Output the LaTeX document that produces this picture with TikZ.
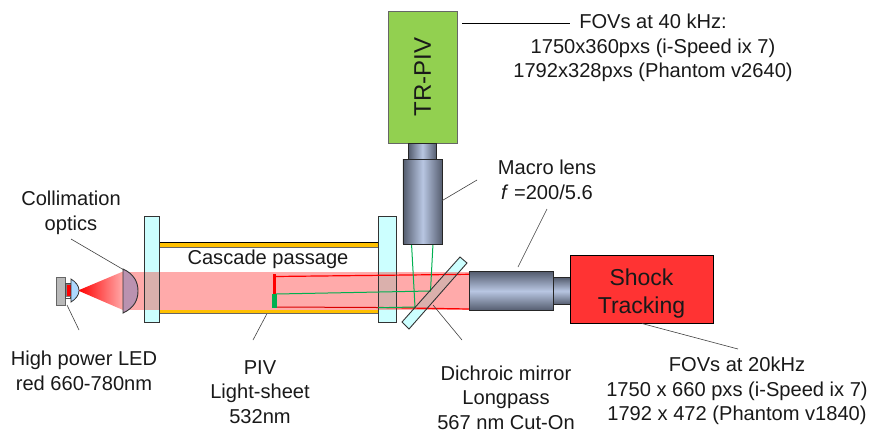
\documentclass[tikz,border=0pt]{standalone}
\usepackage{fontspec}
\setmainfont{Liberation Sans}
\usetikzlibrary{shadings}
\definecolor{beam}{RGB}{255,170,170}
\definecolor{glass}{RGB}{204,255,255}
\definecolor{overl}{RGB}{218,176,172}
\definecolor{lensc}{RGB}{186,146,176}
\definecolor{barc}{RGB}{255,192,0}
\definecolor{tube}{RGB}{184,198,226}
\definecolor{tubed}{RGB}{84,92,110}
\definecolor{pivg}{RGB}{0,176,80}
\definecolor{camg}{RGB}{146,208,80}
\definecolor{shock}{RGB}{255,51,51}
\tikzset{
 x=1pt,y=-1pt,
 lbl/.style={font=\fontsize{20.1}{24.5}\selectfont,align=center,text=black!90,inner sep=0pt},
 leader/.style={draw=black!75,line width=.6pt},
 glassbox/.style={draw=black!80,fill=glass,line width=.9pt},
 vtube/.style={draw=black!85,line width=.9pt,left color=tubed,right color=tubed,middle color=tube},
 htube/.style={draw=black!85,line width=.9pt,top color=tubed,bottom color=tubed,middle color=tube},
}
\begin{document}
\begin{tikzpicture}
\useasboundingbox (0,0) rectangle (869,432);
% leader under the bar
\coordinate (c3) at (271,306); \coordinate (c4) at (253,340);
\draw[leader] (c3)--(c4);
% bars
\fill[barc] (159,242) rectangle (378,247);
\draw[black,line width=.8pt] (159,242)--(378,242);
\draw[black!60,line width=1pt] (159,247.5)--(378,247.5);
\fill[barc] (159,308) rectangle (378,313);
\draw[black,line width=.8pt] (159,308)--(378,308);
\draw[black!60,line width=1pt] (159,313)--(378,313);
% beam
\fill[beam] (123,271.5) rectangle (469,310);
\shade[left color=red,right color=beam,shading angle=90] (78,290.5) -- (123,271.5) -- (123,310) -- cycle;
% windows
\node[glassbox,minimum width=15pt,minimum height=106pt,inner sep=0pt,anchor=north west] (winL) at (144,216) {};
\node[glassbox,minimum width=18pt,minimum height=106pt,inner sep=0pt,anchor=north west] (winR) at (378,216) {};
\fill[overl] (144.5,271.5) rectangle (158.5,310);
\fill[overl] (378.5,271.5) rectangle (395.5,310);
\draw[black!80,line width=.9pt] (144,271)--(144,310) (159,271)--(159,310) (378,271)--(378,310) (396,271)--(396,310);
% mirror
\fill[glass] (460,257)--(467,263)--(409,329)--(402,322)--cycle;
\begin{scope}
\clip (460,257)--(467,263)--(409,329)--(402,322)--cycle;
\fill[overl] (390,271.5) rectangle (469,310);
\end{scope}
% rays
\draw[red,line width=1.2pt] (274.5,276.5)--(469,274.3);
\draw[red!85!black,line width=1pt] (275,307)--(378,307.5);
\draw[red,line width=1.2pt] (378,307.5)--(469,309);
\draw[red,line width=2.6pt] (274.5,274)--(274.5,295);
\fill[pivg] (272,294) rectangle (277,308);
\draw[pivg,line width=1pt] (276,294)--(430.5,291)--(433,243.5);
\draw[pivg,line width=1pt] (378,307.7)--(415,307)--(411.5,243.5);
\draw[black!80,line width=.9pt] (460,257)--(467,263)--(409,329)--(402,322)--cycle;
% cameras
\node[draw=black!60,fill=camg,line width=1pt,minimum width=69pt,minimum height=132pt,inner sep=0pt,anchor=north west] (piv) at (388,11) {};
\node[rotate=90,font=\fontsize{24}{28}\selectfont,text=black!90] at (422.5,77) {TR-PIV};
\node[vtube,minimum width=28pt,minimum height=16pt,inner sep=0pt,anchor=north west] (c1) at (408,143) {};
\node[vtube,minimum width=39.5pt,minimum height=84.5pt,inner sep=0pt,anchor=north west] (c2) at (402.5,159) {};
\node[htube,minimum width=84pt,minimum height=39pt,inner sep=0pt,anchor=north west] (h1) at (469,271) {};
\node[htube,minimum width=17pt,minimum height=27pt,inner sep=0pt,anchor=north west] (h2) at (553,277) {};
\node[draw=black,fill=shock,line width=1pt,minimum width=143pt,minimum height=68pt,inner sep=0pt,anchor=north west] (st) at (570,255) {};
\node[font=\fontsize{23}{28}\selectfont,align=center,text=black!90,inner sep=0pt] (stt) at (641.5,293.5) {Shock\\Tracking};
% lens
\fill[lensc,draw=black!80,line width=.9pt] (123,269) .. controls (134,274) and (138,282) .. (138,291) .. controls (138,300) and (134,308) .. (123,313) -- cycle;
% LED
\node[draw=black!60,fill=gray!55,line width=.8pt,minimum width=9pt,minimum height=28pt,inner sep=0pt,anchor=north west] (led) at (56,277) {};
\fill[white,draw=black!70,line width=.6pt] (65,283) rectangle (70,298);
\fill[red,draw=black!50,line width=.4pt] (66,284) rectangle (71,296);
\fill[blue!15!glass,draw=black!80,line width=.8pt] (71,279) .. controls (76,282) and (79,286) .. (79,290.5) .. controls (79,295) and (76,299) .. (71,302) -- (71,297)--(71,284)--cycle;
% leaders
\coordinate (a1) at (71,239); \coordinate (a2) at (124,270);
\draw[leader] (a1)--(a2);
\coordinate (b1) at (67,305); \coordinate (b2) at (79,330);
\draw[leader] (b1)--(b2);
\coordinate (d1) at (433,305); \coordinate (d2) at (462,340);
\draw[leader] (d1)--(d2);
\coordinate (e1) at (442,200.7); \coordinate (e2) at (477,180);
\draw[leader] (e1)--(e2);
\coordinate (f1) at (518,267); \coordinate (f2) at (547,209);
\draw[leader] (f1)--(f2);
\coordinate (g1) at (462,23.5); \coordinate (g3) at (570,23.5);
\draw[black,line width=1pt] (g1)--(g3);
\coordinate (h3) at (642,323.5); \coordinate (h4) at (738,349);
\draw[leader] (h3)--(h4);
% labels
\node[lbl] (t1) at (71,213) {Collimation\\optics};
\node[lbl] (t2) at (84,371) {High power LED\\red 660-780nm};
\node[lbl] (t3) at (268,259) {Cascade passage};
\node[lbl] (t4) at (260,392) {PIV\\Light-sheet\\532nm};
\node[lbl] (t5) at (506,397.5) {Dichroic mirror\\Longpass\\567 nm Cut-On};
\node[lbl] (t6) at (547,180) {Macro lens\\\textit{f} =200/5.6};
\node[lbl] (t7) at (653,48) {FOVs at 40 kHz:\\1750x360pxs (i-Speed ix 7)\\1792x328pxs (Phantom v2640)};
\node[lbl] (t8) at (737,391) {FOVs at 20kHz\\1750 x 660 pxs (i-Speed ix 7)\\1792 x 472 (Phantom v1840)};
\end{tikzpicture}
\end{document}
